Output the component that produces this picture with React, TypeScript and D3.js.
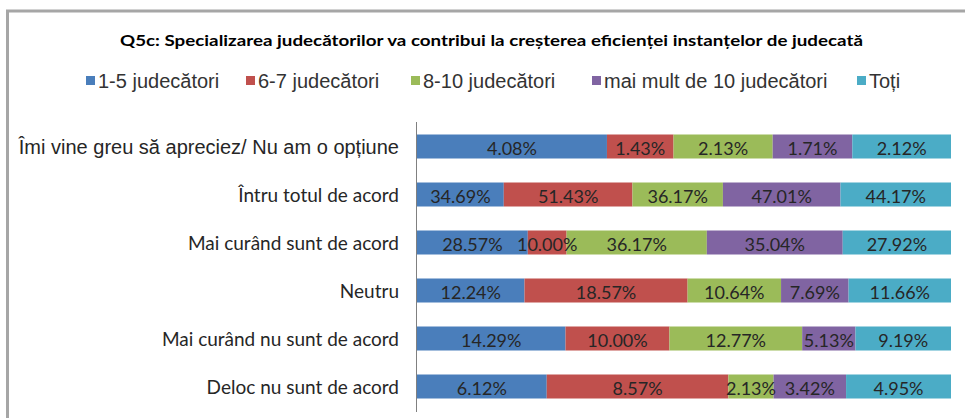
import React from "react";
import * as d3 from "d3";

const categories = [
  "Îmi vine greu să apreciez/ Nu am o opțiune",
  "Întru totul de acord",
  "Mai curând sunt de acord",
  "Neutru",
  "Mai curând nu sunt de acord",
  "Deloc nu sunt de acord",
];
const seriesNames = [
  "1-5 judecători",
  "6-7 judecători",
  "8-10 judecători",
  "mai mult de 10 judecători",
  "Toți",
];
const s15 = [4.08, 34.69, 28.57, 12.24, 14.29, 6.12];
const s67 = [1.43, 51.43, 10.0, 18.57, 10.0, 8.57];
const s810 = [2.13, 36.17, 36.17, 10.64, 12.77, 2.13];
const s10plus = [1.71, 47.01, 35.04, 7.69, 5.13, 3.42];
const sAll = [2.12, 44.17, 27.92, 11.66, 9.19, 4.95];
const title =
  "Q5c: Specializarea judecătorilor va contribui la creșterea eficienței instanțelor de judecată";

const colors = ["#4A7EBB", "#C0504D", "#9BBB59", "#8064A2", "#4BACC6"];
const legendX = [86, 246, 411, 592, 857];

const W = 965;
const H = 418;

export default function App() {
  const seriesValues = [s15, s67, s810, s10plus, sAll];
  const rows = categories.map((c, i) => {
    const r: any = { category: c };
    seriesNames.forEach((s, j) => (r[s] = seriesValues[j][i]));
    return r;
  });
  const stack = d3.stack<any>().keys(seriesNames).offset(d3.stackOffsetExpand);
  const stacked = stack(rows);

  const x = d3.scaleLinear().domain([0, 1]).range([417, 951]);
  const y = d3
    .scaleBand<string>()
    .domain(categories)
    .range([122.5, 410.5])
    .paddingInner(0.5)
    .paddingOuter(0.25);

  return (
    <svg
      width={W}
      height={H}
      style={{ position: "absolute", left: 0, top: 0, background: "#fff" }}
    >
      <rect x={0} y={0} width={W} height={H} fill="#fff" />
      <path d={`M7.5,${H} V11 H${W}`} fill="none" stroke="#A6A6A6" strokeWidth={3} />
      <text
        x={120}
        y={46}
        fontFamily="Lato, 'Open Sans', sans-serif"
        fontWeight="bold"
        fontSize={16}
        fill="#000"
        textLength={743}
        lengthAdjust="spacingAndGlyphs"
      >
        {title}
      </text>
      {seriesNames.map((s, i) => (
        <g key={s}>
          <rect x={legendX[i]} y={76} width={9} height={9} fill={colors[i]} />
          <text
            x={legendX[i] + 12}
            y={81}
            dominantBaseline="central"
            fontFamily="'Liberation Sans', Arial, sans-serif"
            fontSize={20}
            fill="#333"
          >
            {s}
          </text>
        </g>
      ))}
      {categories.map((c, i) => (
        <text
          key={c}
          x={399}
          y={(y(c) as number) + y.bandwidth() / 2}
          textAnchor="end"
          dominantBaseline="central"
          fontFamily={i === 0 ? "'Liberation Sans', Arial, sans-serif" : "Lato, sans-serif"}
          fontSize={i === 0 ? 20 : 19}
          fill="#262626"
        >
          {c}
        </text>
      ))}
      {stacked.map((layer, j) => (
        <g key={layer.key} fill={colors[j]}>
          {layer.map((d, i) => (
            <rect
              key={i}
              x={x(d[0])}
              y={y(categories[i])}
              width={x(d[1]) - x(d[0])}
              height={y.bandwidth()}
            />
          ))}
        </g>
      ))}
      {stacked.map((layer, j) => (
        <g key={layer.key + "-l"}>
          {layer.map((d, i) => (
            <text
              key={i}
              x={(x(d[0]) + x(d[1])) / 2}
              y={(y(categories[i]) as number) + y.bandwidth() / 2 + 1}
              textAnchor="middle"
              dominantBaseline="central"
              fontFamily="Lato, sans-serif"
              fontSize={18}
              fill="#262626"
            >
              {seriesValues[j][i].toFixed(2)}%
            </text>
          ))}
        </g>
      ))}
      <line x1={416.5} x2={416.5} y1={122} y2={412} stroke="#808080" strokeWidth={1} />
    </svg>
  );
}
